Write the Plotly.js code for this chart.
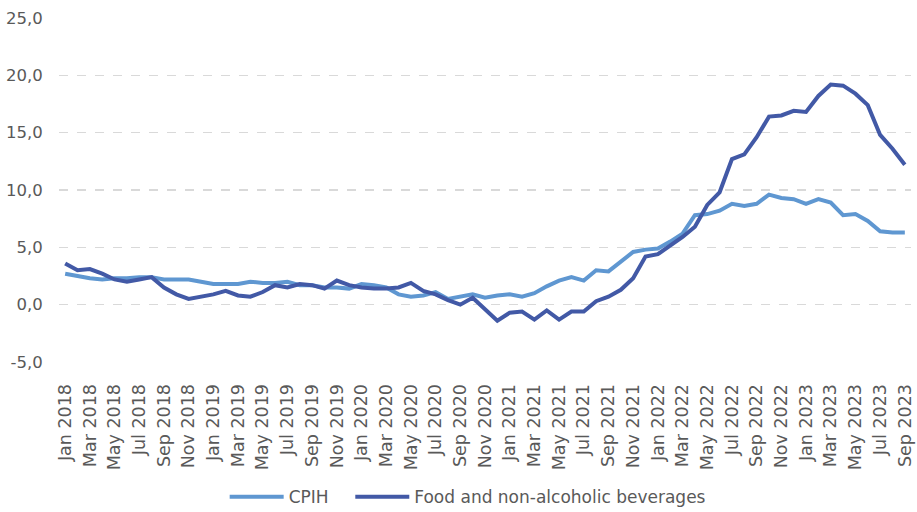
<!DOCTYPE html>
<html>
<head>
<meta charset="utf-8">
<script src="https://cdn.plot.ly/plotly-3.0.1.min.js"></script>
<style>
  html, body { margin: 0; padding: 0; background: #ffffff; }
  #chart { width: 917px; height: 512px; }
</style>
</head>
<body>
<div id="chart"></div>
<script>
const months = [
  "Jan 2018","Feb 2018","Mar 2018","Apr 2018","May 2018","Jun 2018","Jul 2018","Aug 2018","Sep 2018","Oct 2018","Nov 2018","Dec 2018",
  "Jan 2019","Feb 2019","Mar 2019","Apr 2019","May 2019","Jun 2019","Jul 2019","Aug 2019","Sep 2019","Oct 2019","Nov 2019","Dec 2019",
  "Jan 2020","Feb 2020","Mar 2020","Apr 2020","May 2020","Jun 2020","Jul 2020","Aug 2020","Sep 2020","Oct 2020","Nov 2020","Dec 2020",
  "Jan 2021","Feb 2021","Mar 2021","Apr 2021","May 2021","Jun 2021","Jul 2021","Aug 2021","Sep 2021","Oct 2021","Nov 2021","Dec 2021",
  "Jan 2022","Feb 2022","Mar 2022","Apr 2022","May 2022","Jun 2022","Jul 2022","Aug 2022","Sep 2022","Oct 2022","Nov 2022","Dec 2022",
  "Jan 2023","Feb 2023","Mar 2023","Apr 2023","May 2023","Jun 2023","Jul 2023","Aug 2023","Sep 2023"
];

const cpih = [
  2.7, 2.5, 2.3, 2.2, 2.3, 2.3, 2.4, 2.4, 2.2, 2.2, 2.2, 2.0,
  1.8, 1.8, 1.8, 2.0, 1.9, 1.9, 2.0, 1.7, 1.7, 1.5, 1.5, 1.4,
  1.8, 1.7, 1.5, 0.9, 0.7, 0.8, 1.1, 0.5, 0.7, 0.9, 0.6, 0.8,
  0.9, 0.7, 1.0, 1.6, 2.1, 2.4, 2.1, 3.0, 2.9, 3.8, 4.6, 4.8,
  4.9, 5.5, 6.2, 7.8, 7.9, 8.2, 8.8, 8.6, 8.8, 9.6, 9.3, 9.2,
  8.8, 9.2, 8.9, 7.8, 7.9, 7.3, 6.4, 6.3, 6.3
];

const food = [
  3.6, 3.0, 3.1, 2.7, 2.2, 2.0, 2.2, 2.4, 1.5, 0.9, 0.5, 0.7,
  0.9, 1.2, 0.8, 0.7, 1.1, 1.7, 1.5, 1.8, 1.7, 1.4, 2.1, 1.7,
  1.5, 1.4, 1.4, 1.5, 1.9, 1.2, 0.9, 0.4, 0.0, 0.6, -0.4, -1.4,
  -0.7, -0.6, -1.3, -0.5, -1.3, -0.6, -0.6, 0.3, 0.7, 1.3, 2.3, 4.2,
  4.4, 5.1, 5.9, 6.8, 8.7, 9.8, 12.7, 13.1, 14.6, 16.4, 16.5, 16.9,
  16.8, 18.2, 19.2, 19.1, 18.4, 17.4, 14.8, 13.6, 12.2
];

const seriesNames = ["CPIH", "Food and non-alcoholic beverages"];
const xTickLabels = months.filter((m, i) => i % 2 === 0);
const yTickValues = [-5, 0, 5, 10, 15, 20, 25];
const yTickLabels = ["-5,0", "0,0", "5,0", "10,0", "15,0", "20,0", "25,0"];

const textColor = "#595959";
const fontFamily = "'DejaVu Sans', 'Liberation Sans', Arial, sans-serif";

const traces = [
  {
    x: months, y: cpih, name: seriesNames[0], type: "scatter", mode: "lines",
    line: { color: "#5f97d1", width: 4 }, legend: "legend"
  },
  {
    x: months, y: food, name: seriesNames[1], type: "scatter", mode: "lines",
    line: { color: "#4259a6", width: 4 }, legend: "legend2"
  }
];

const legendCommon = {
  orientation: "h",
  xref: "container", yref: "container",
  xanchor: "left",
  y: 0.029, yanchor: "middle",
  font: { size: 17, color: textColor },
  itemwidth: 54,
  bgcolor: "rgba(0,0,0,0)"
};

const layout = {
  width: 917, height: 512,
  margin: { l: 59, r: 6, t: 18, b: 150, autoexpand: false },
  paper_bgcolor: "#ffffff",
  plot_bgcolor: "#ffffff",
  font: { family: fontFamily, color: textColor, size: 16 },
  showlegend: true,
  legend: Object.assign({}, legendCommon, { x: 0.245 }),
  legend2: Object.assign({}, legendCommon, { x: 0.382 }),
  xaxis: {
    type: "category",
    categoryorder: "array",
    categoryarray: months,
    range: [-0.5, months.length - 0.5],
    tickmode: "array",
    tickvals: xTickLabels,
    ticktext: xTickLabels,
    tickangle: -90,
    ticks: "outside",
    ticklen: 14,
    tickcolor: "rgba(0,0,0,0)",
    tickfont: { size: 17.5, color: textColor },
    automargin: false,
    showgrid: false,
    showline: false,
    zeroline: false
  },
  yaxis: {
    range: [-5, 25],
    tickmode: "array",
    tickvals: yTickValues,
    ticktext: yTickLabels,
    ticks: "outside",
    ticklen: 12,
    tickcolor: "rgba(0,0,0,0)",
    tickfont: { size: 16.5, color: textColor },
    automargin: false,
    showgrid: true,
    gridcolor: "#d9d9d9",
    gridwidth: 1.5,
    griddash: "dash",
    zeroline: false,
    showline: false
  }
};

Plotly.newPlot("chart", traces, layout, { displayModeBar: false, staticPlot: true });
</script>
</body>
</html>
